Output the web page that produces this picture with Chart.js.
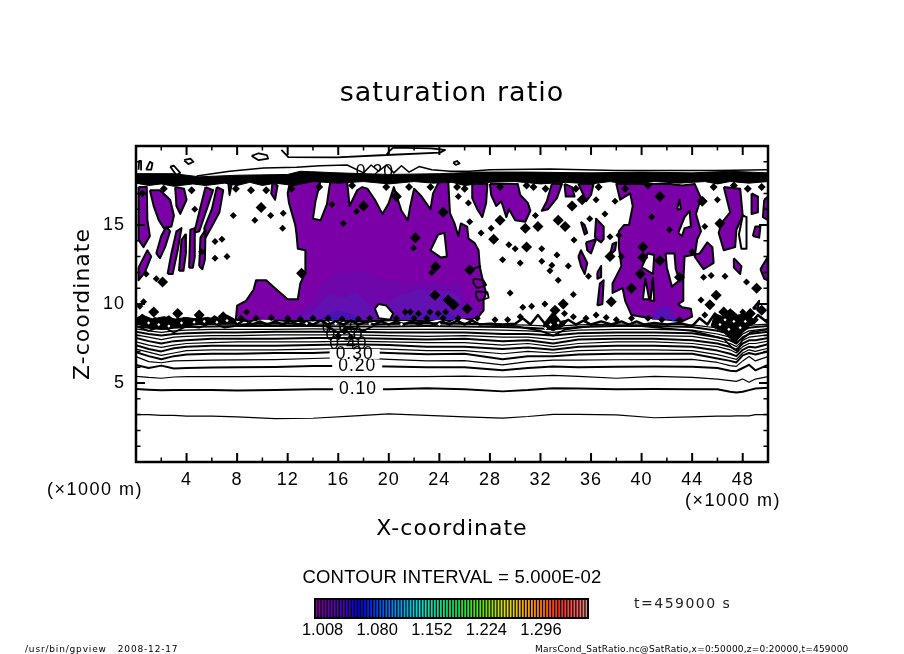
<!DOCTYPE html>
<html><head><meta charset="utf-8">
<script src="https://cdn.jsdelivr.net/npm/chart.js@4/dist/chart.umd.min.js"></script>
<style>html,body{margin:0;padding:0;background:#fff}#w{position:relative;width:904px;height:654px;overflow:hidden}
#main{position:absolute;left:0;top:0}#bar{position:absolute;left:290px;top:598px}</style></head>
<body><div id="w"><canvas id="main" width="904" height="654"></canvas><canvas id="bar" width="330" height="46"></canvas></div>
<script>
const titleText='saturation ratio';
const xTitle='X-coordinate', zTitle='Z-coordinate';
const purple='#7b00a8';
// contour stations (km) and contour heights (km)
const stationsX=[0,1,2,3,4,6,8,11,14,17,20,23,26,29,31,33,35,38,41,44,46,47,47.5,48,48.5,49,50];
const c05=[3.0,3.0,2.95,2.95,2.9,2.9,2.85,2.75,2.77,2.9,3.05,2.95,2.85,2.78,2.88,3.02,3.02,2.98,2.8,2.85,2.9,2.9,2.92,2.92,2.92,3.0,3.0];
const c10=[4.62,4.58,4.54,4.55,4.55,4.56,4.53,4.55,4.6,4.6,4.6,4.66,4.6,4.47,4.55,4.67,4.65,4.6,4.62,4.6,4.6,4.45,4.4,4.45,4.55,4.65,4.7];
const c15=[5.42,5.35,5.3,5.38,5.4,5.4,5.4,5.42,5.4,5.4,5.4,5.4,5.44,5.38,5.42,5.48,5.42,5.3,5.42,5.35,5.25,5.15,5.1,5.25,5.05,5.25,5.4];
const c20=[6.14,5.95,6.1,5.92,5.95,5.98,6.0,6.02,6.08,6.08,6.05,6.0,6,5.8,5.95,6.05,6.0,6.03,6.05,6.03,5.95,5.78,5.75,5.95,6.15,5.8,6.14];
const c25=[6.67,6.35,6.28,6.4,6.42,6.45,6.46,6.48,6.55,6.62,6.5,6.4,6.42,6.15,6.35,6.45,6.45,6.47,6.48,6.5,6.3,6.1,6.05,6.4,6.67,6.4,6.67];
const c30=[6.95,6.7,6.5,6.7,6.8,6.85,6.85,6.9,6.9,7,6.9,6.82,6.85,6.5,6.7,6.7,6.8,6.85,6.85,6.85,6.55,6.4,6.3,6.75,6.9,6.8,7];
const c35=[7.15,6.95,6.75,6.9,7.05,7.1,7.1,7.1,7.15,7.2,7.15,7.05,7.05,6.85,7,6.9,7.05,7.1,7.1,7.05,6.8,6.6,6.5,6.9,7.1,7,7.2];
const c40=[7.4,7.15,7,7.2,7.3,7.35,7.35,7.35,7.4,7.45,7.4,7.3,7.3,7.15,7.25,7.1,7.3,7.35,7.35,7.3,7.05,6.85,6.7,7.1,7.3,7.25,7.45];
const c45=[7.6,7.4,7.25,7.4,7.5,7.55,7.6,7.6,7.6,7.65,7.6,7.55,7.55,7.4,7.5,7.3,7.5,7.6,7.6,7.5,7.3,7.1,6.9,7.3,7.5,7.5,7.65];
const c50=[7.85,7.65,7.5,7.65,7.7,7.8,7.8,7.8,7.85,7.85,7.8,7.75,7.8,7.65,7.7,7.5,7.75,7.8,7.8,7.7,7.5,7.3,7.1,7.5,7.7,7.7,7.85];
const c55=[8.05,7.9,7.75,7.9,7.95,8,8,8.05,8.05,8.05,8.0,7.95,8,7.9,7.9,7.75,7.95,8,8,7.95,7.7,7.5,7.3,7.7,7.9,7.95,8.05];
const c60=[8.25,8.1,8,8.1,8.15,8.2,8.2,8.25,8.25,8.25,8.2,8.2,8.2,8.1,8.1,8,8.15,8.2,8.2,8.15,7.9,7.7,7.5,7.9,8.1,8.15,8.25];
const c65=[8.42,8.3,8.2,8.3,8.35,8.4,8.4,8.4,8.42,8.4,8.4,8.4,8.4,8.35,8.3,8.2,8.35,8.4,8.4,8.35,8.1,7.9,7.7,8.1,8.3,8.35,8.45];
const c70=[8.6,8.5,8.42,8.5,8.55,8.58,8.6,8.6,8.6,8.58,8.58,8.6,8.58,8.55,8.5,8.4,8.55,8.6,8.6,8.55,8.3,8.1,7.9,8.3,8.5,8.55,8.6];
const c75=[8.72,8.65,8.6,8.65,8.7,8.72,8.73,8.74,8.73,8.72,8.72,8.74,8.72,8.7,8.66,8.58,8.68,8.72,8.72,8.68,8.48,8.3,8.1,8.48,8.65,8.68,8.72];
const thinContours=[c05,c15,c25,c35,c45,c55,c65,c75];
const thickContours=[c10,c20,c30,c40,c50,c60,c70];
// ragged supersaturation edge
const raggedA=[[0,8.9],[.5,9.3],[1,8.8],[1.5,9.1],[2,8.8],[2.6,9.2],[3.2,8.8],[3.8,9.1],[4.4,8.8],[5,9.2],[5.6,8.8],[6.2,9.2],[6.8,8.9],[7.4,9.1],[8,8.7],[8.6,9],[9.2,8.7],[9.8,8.9],[10.4,8.7],[11,8.9],[11.6,8.7],[12.2,8.95],[12.8,8.7],[13.4,8.9],[14,8.7],[14.6,8.95],[15.2,8.7],[15.8,8.9],[16.4,8.7],[17,8.95],[17.6,8.7],[18.2,8.85],[18.8,8.7],[19.4,8.9],[20,8.7],[20.6,8.9],[21.2,8.7],[21.8,8.9],[22.4,8.7],[23,8.9],[23.6,8.7],[24.2,8.9],[24.8,8.7],[25.4,8.95],[26,8.7],[26.6,8.95],[27.2,8.7],[28,8.75],[29,8.7],[30,8.75],[30.6,9.1],[31.2,8.7],[31.8,9.3],[32.4,8.7],[33,9.3],[33.6,8.7],[34.2,9],[34.8,8.7],[35.4,8.95],[36,8.7],[36.8,8.9],[37.6,8.7],[38.4,8.9],[39,8.7],[39.6,8.9],[40.2,8.7],[41,8.8],[42,8.7],[43,8.8],[44,8.6],[44.6,9.1],[45.2,8.7],[45.8,9.4],[46.4,8.7],[47,9.5],[47.5,8.5],[48,9.5],[48.6,8.7],[49.2,9.3],[50,8.8]];
const raggedB=[[0,8.6],[1,8.3],[2,8.6],[3,8.2],[4,8.6],[5,8.5],[6,8.8],[7,8.5],[9,8.75],[12,8.78],[15,8.6],[16,8.2],[17,8.5],[18,8.3],[19,8.7],[22,8.8],[26,8.78],[30,8.6],[32,8.3],[33,8.0],[34,8.4],[36,8.6],[40,8.6],[44,8.3],[45.5,8.0],[46.5,7.8],[47.2,7.2],[47.6,7.0],[48,7.8],[48.6,8.2],[50,8.4]];
const edgeMassLeft=[[0,8.75],[1,8.5],[2.2,8.4],[3.2,8.55],[5,8.7],[7.9,8.75],[7.9,9],[7.2,9.3],[6.4,9.05],[5.6,9.15],[4.8,9.05],[4,9.15],[3.1,9.05],[2.2,9.2],[1.3,9.05],[.5,9.3],[0,9.1]];
const edgeMassRight=[[45.5,8.6],[46.5,8.2],[47.4,7.5],[47.9,8.1],[48.5,8.6],[49,8.8],[48.5,9.4],[47.6,9.3],[47,9.7],[46.4,9.2],[45.8,9.4]];
const edgeMassMid=[[32.2,8.6],[33,8.3],[33.8,8.6],[34.2,9],[33.6,8.9],[33,9.5],[32.4,8.9]];
const whiteSpecks=[[1,8.8],[1.8,8.7],[2.6,8.6],[3.6,8.8],[4.6,8.85],[5.4,8.9],[6.4,8.85],[7.2,8.95],[46.2,8.7],[46.9,8.4],[47.3,8.9],[47.8,8.5],[48.2,8.9],[46.6,9],[32.8,8.7],[33.4,8.8],[32.4,8.45],[13.5,8.78],[15.8,8.75],[18.5,8.75],[21,8.72],[24,8.72]];
// thick band near 18 km
const band=[[0,18.25],[3,18.25],[5,18.05],[8,18.15],[12,18.2],[13,18.4],[16,18.3],[20,18.2],[24,18.25],[27,18.35],[31,18.35],[36,18.3],[40,18.35],[44,18.3],[47,18.4],[50,18.3],[50,17.75],[48.5,17.65],[47,17.75],[46,17.6],[45,17.75],[43,17.65],[41,17.75],[39,17.55],[37.5,17.75],[36,17.6],[34,17.7],[32,17.6],[30,17.75],[28,17.7],[26,17.5],[25,17.7],[23.5,17.65],[22,17.75],[20,17.6],[18,17.75],[16,17.65],[14,17.75],[12.5,17.5],[11,17.65],[10,17.5],[9,17.7],[8,17.5],[7,17.65],[5.5,17.5],[4.5,17.6],[3,17.45],[2,17.6],[1,17.5],[0,17.65]];
// upper contours
const topLine=[[4.8,18.1],[7.4,18.4],[10.1,18.6],[12.7,18.65],[14.55,18.75],[16.7,18.8],[18,18.3],[18.6,18.8],[19.2,18.4],[19.8,18.8],[20.4,18.3],[21,18.75],[21.6,18.35],[22.4,18.7],[23.4,18.5],[24.85,18.4],[26.4,18.4],[28,18.5],[32.75,18.55],[38,18.45],[45.9,18.45],[50,18.5]];
const topLens=[[11.5,19.75],[12.05,19.3],[15.9,19.28],[19.8,19.43],[24.05,19.58],[24.45,19.75],[23.3,19.85],[20.35,19.9],[20,19.64],[19.8,19.43]];
const topLoopA=[[9.15,19.37],[9.7,19.54],[10.35,19.43],[10.45,19.2],[9.7,19.1],[9.15,19.37]];
const topLoopB=[[3.8,19.1],[4.3,19.2],[4.55,19.0],[4.15,18.85],[3.8,19.1]];
const topLoopC=[[2.7,18.7],[3.0,18.75],[3.5,18.3],[3.2,18.15],[2.7,18.7]];
const topLoopD=[[.2,18.5],[.25,19.05],[.4,19.05],[.4,18.5]];
const topLoopE=[[.8,18.5],[1.1,19],[1.3,18.9],[1.2,18.5],[.8,18.5]];
const topLoopF=[[25.1,18.95],[25.4,19.05],[25.6,18.9],[25.3,18.8],[25.1,18.95]];
const loopA=[[26.7,11.6],[27.5,11.5],[27.7,11.2],[27,11],[26.7,11.3],[26.7,11.6]];
const loopB=[[26.9,10.8],[27.8,10.75],[27.9,10.4],[27.1,10.2],[26.9,10.5],[26.9,10.8]];
const stem=[[26.2,12.1],[27.3,12.4]];
// filled saturated regions
const mainBlob=[[7.9,9],[8,9.9],[8.7,10.2],[9.3,10.9],[9.5,11.5],[10.3,11.5],[11,11],[12,10.3],[12.8,10.3],[13,11.3],[13.4,12],[13.4,13.4],[12.8,13.5],[12.7,14.4],[12.6,15],[12.1,16.4],[12,17],[12.2,17.8],[14.6,17.8],[14.2,16.5],[14,15.4],[14.6,15.3],[15.1,16.3],[15.3,17.4],[15.4,17.8],[16.7,17.8],[16.9,16.2],[17.5,17.2],[17.9,17.4],[18.3,17.3],[18.9,16.6],[19.5,15.7],[20,16.4],[20.4,17.4],[21,15.9],[21.5,15.3],[21.7,16.2],[22,17.3],[22.6,16.8],[23.3,16],[23.5,17],[24,17.8],[24.7,17.8],[24.84,15.75],[25.2,15.1],[25.5,14.3],[25.7,15.1],[26.2,14.9],[26.3,14.15],[26.8,13.85],[27.1,13.4],[27.2,12.35],[27.5,11.3],[27.7,10.7],[27.5,10.25],[27.5,9.6],[27.1,9.2],[26.4,9],[25.6,9.2],[24.8,8.9],[24,9.1],[23,8.9],[21,9],[18,8.9],[15,9],[12,8.9],[10,9.1],[9,8.9]];
const leftPlumes=[
 [[.2,17.4],[.85,17.4],[.9,15.3],[1.1,14.3],[.6,13.6],[.2,14.05]],
 [[.2,12.3],[.9,13.4],[1.2,13],[.7,12],[.2,11.5]],
 [[1.1,17.2],[1.9,17.2],[2.7,16.6],[3,15.6],[2.8,14.9],[2.2,14.8],[1.8,15.3],[1.4,16.2]],
 [[3.1,17.4],[3.8,17.3],[4,16.6],[3.5,15.7],[3.2,16.2]],
 [[5.5,17.4],[6.1,17.2],[5.6,16],[5,14.6],[4.6,14.5],[5,15.8]],
 [[6.4,17.4],[6.9,17.2],[6.6,15.8],[6,14.9],[5.5,14.2],[5.4,14.8],[6,16]],
 [[7.3,17.7],[7.6,17.7],[7.4,16.9]],
 [[10.8,17.7],[11.2,17.5],[11,16.6],[10.7,17]],
 [[1.6,13.2],[2,14.3],[2.4,14.9],[2.7,14.6],[2.3,13.6],[1.9,12.9]],
 [[2.5,11.9],[2.8,13.2],[3.2,14.6],[3.6,14.8],[3.3,13.4],[2.9,11.9]],
 [[3.4,12.1],[3.6,14.05],[3.9,14.4],[3.95,13.2],[3.75,12.1]],
 [[4.2,12.3],[4.3,14.7],[4.65,14.8],[4.65,13],[4.5,12.3]],
 [[5,12.4],[5.1,14.2],[5.5,14.7],[5.45,12.8],[5.25,12.2]]];
const rightPlumes=[
 [[26.6,17.6],[27.8,17.6],[27.7,16.4],[27.4,15.5],[27,16],[26.6,16.7]],
 [[28,17.6],[30.2,17.6],[30.4,16.9],[31,16.4],[31.2,15.9],[30.8,15.2],[30,15.3],[29.5,16],[29.3,15.5],[28.9,16.5],[28.5,16.2],[28.1,16.9]],
 [[32.9,17.6],[33.7,17.6],[33.3,16.7],[32.6,16],[32.1,15.9],[32.5,16.5]],
 [[33.9,17.6],[34.5,17.4],[34.7,16.8],[34,16.8]],
 [[35,17.6],[36.2,17.6],[36,16.9],[35.6,16.5],[35.4,16.9]],
 [[36.3,14.2],[36.4,15.4],[37,14.9],[37,14.1],[36.8,13.9]],
 [[35.2,15.2],[35.5,15],[35.7,14.5],[35.5,14.4]],
 [[35.6,13.9],[36.4,14.1],[36,13.2],[35.7,13.4]],
 [[35,13],[35.2,13.4],[35.7,12.6],[35.5,11.9],[35.2,12.4]],
 [[37.5,13.1],[37.9,13.4],[38,13.9],[37.7,13.8]],
 [[36.5,9.9],[36.9,10],[37,11.5],[36.7,11.3]],
 [[36.5,12],[36.8,12.4],[36.8,11.7],[36.5,11.6]],
 [[39.2,9.3],[38.7,10.2],[38.5,11],[37.7,10.7],[37.7,11.3],[38.4,12.4],[38.2,13.6],[38.2,14.6],[38.6,15],[39,15],[39.3,16.2],[39.1,17],[38.3,16.6],[38,17.6],[42.3,17.6],[43.2,17.5],[44.2,17.6],[44.7,16.7],[44.3,15.7],[44.7,14.6],[44.4,14.1],[44.2,13],[44.9,12.2],[45.7,12.6],[45.6,13.6],[45.2,13.9],[44.6,13.2],[43.4,13],[43.3,11.5],[43.3,10.2],[42.9,10],[43.2,9.8],[43.9,9.7],[44,9.2],[43.2,8.9],[41,9.1],[40,9.2]],
 [[46.5,17.4],[47.8,17.3],[48,15.6],[47.5,14.7],[47.4,13.6],[46.5,13.4],[46.1,14.5],[46.3,15.1],[47,15.8]],
 [[47.3,12.9],[47.9,12.4],[47.8,11.9],[47.3,12.3]],
 [[48.7,17],[49.2,16.8],[49.2,15.8],[48.7,15.7]],
 [[49.7,16.6],[50,16.8],[50,15.3],[49.6,15.5]],
 [[48.8,14.3],[49,14.9],[49.4,14.9],[49.3,14.2]],
 [[49.4,12.2],[50,13],[50,11.5],[49.7,11.6]],
 [[48.8,9.7],[49.3,10.2],[49.2,9.7]]];
const holes=[
 [[23.9,14.4],[24.4,14.5],[24.6,13],[24.1,12.95],[23.3,13.4]],
 [[18.9,9.7],[19.2,10],[19.8,9.9],[20.35,9.4],[20.1,9],[19.2,9.1]],
 [[42.9,14.5],[43.4,15.5],[43.8,15.9],[43.9,14.9],[43.4,14.8],[43.2,14.3]],
 [[41.9,13.2],[42.6,13.2],[42.7,12.2],[43,11.5],[42.4,11.1],[42,12.3]],
 [[40,12.3],[40.5,13.2],[41,13.1],[40.9,11.9],[40.3,12.2]],
 [[40.1,10.3],[40.3,11.6],[40.6,10.3]],
 [[40.9,11.7],[41,10.2],[40.7,10.2]],
 [[42.8,16],[43,16.6],[43.1,16]],
 [[48,15.6],[48.3,15.5],[48.3,13.5],[47.9,13.5],[47.7,14.4]]];
const deepA=[[9,9],[12.7,9.5],[13.9,10.2],[14.5,11.1],[15.9,11.95],[18,12.05],[19.6,11.5],[21.9,11.4],[25.6,11.3],[26.1,10.05],[27.2,9.8],[27.1,9.1]];
const deepB=[[12.6,9],[14.2,9.7],[15.2,10.6],[16.5,10.4],[17.5,10.8],[18.3,10],[19.3,9.6],[20.6,10.5],[22.4,10.9],[25,10.8],[25.6,10.5],[25.8,9.4],[25.6,9]];
const deepC=[[14.4,9],[15.3,9.4],[16,9.6],[17,9.4],[17.8,9],[20.8,9],[21.5,9.4],[23,9.4],[24.5,9.5],[25.3,9.2],[25.2,9]];
const deepD=[[40.8,9],[41.2,9.7],[42,9.9],[42.5,9.5],[42.4,9]];
const bluePts=[[15.6,9.0],[17.25,8.95],[42.5,9.0]];
// isolated small closed contours
const blobsLarge=[[9.9,16.1],[18,16.2],[22.1,14.2],[24.3,15.8],[23.7,12.35],[23.65,10.55],[13.1,11.95],[1.4,9.5],[3.3,9.4],[5,9.3],[2.1,11.4],[6.9,9.2],[24.7,10.25],[25.15,9.95],[20.6,16.8],[41.45,16.8],[40.1,13.6],[41.45,12.75],[40.1,12.95],[39.2,11],[43,11.7],[30.8,14.8],[28.8,15.3],[31.8,14.9],[30.9,13.6],[28.3,14.1],[33.4,15.3],[33.95,14.9],[35.3,16.6],[34.5,16.2],[44.8,16.5],[46.2,15.1],[49.1,11],[33.8,10],[37.6,10.15],[26.4,12.15],[25.1,9.95],[26.2,9.7],[33.15,9.6],[45.4,9.95],[45.9,10.55],[37.5,13],[39.9,11.9],[46.5,9.5],[48.6,9.4],[49.5,9.6]];
const blobsMid=[[.5,17],[2.2,17.3],[4.4,17.2],[7.9,17.3],[9.1,17.2],[10.3,17.2],[12.3,17.3],[14.5,17.4],[17.1,17.5],[19.8,17.4],[21.6,17.4],[23.3,17.4],[25.4,17.4],[26,17.3],[28.8,17.4],[30.9,17.5],[31.45,17.4],[32.4,17.3],[34.8,17.3],[36.6,17.4],[38.7,17.3],[40.5,17.5],[45.7,17.4],[47.3,17.5],[48.4,17.3],[49.5,17.4]];
const blobsSmall=[[7.7,15.6],[11.6,14.8],[10.65,15.6],[11.65,15.75],[9.4,15.3],[4.65,16],[6.25,13.95],[6.8,14.1],[6.25,12.9],[7.2,13],[16.4,15.1],[17.45,15.85],[15.5,16.3],[21.95,13.55],[23.4,12],[21.3,9.5],[21.7,9.5],[22.35,9.4],[23.25,9.5],[23.9,9.4],[24.5,9.5],[8.75,9.5],[.6,10.15],[.3,9.85],[32.9,12.45],[34.2,12.4],[32.75,12.1],[32.1,12.7],[31.3,9.85],[32.35,10],[28.1,14.8],[29.5,13.75],[30,13.5],[32.1,13.5],[33.3,13.1],[34.65,14.05],[35.8,11.75],[37.5,14.25],[38.2,14.35],[44.7,10.25],[44.9,11.7],[45.5,11.8],[46.6,11.75],[48.3,11.4],[36.4,16.6],[26.4,15.2],[27.3,14.5],[25.5,16.8],[45,9.3],[46,9.1],[48,9.5],[49,9],[16.5,8.3],[16,8],[17,7.9],[8.3,9.1],[9.5,9.1],[10.7,9.15],[12,9.1],[13,9.05],[14,9.1],[15.2,9.1],[16.3,9.05],[17.6,9.05],[18.5,9.1],[20.6,9.1],[22,9.1],[23,9.1],[24.3,9.1],[25.5,9.1],[27,9.1],[28.4,9],[29.4,9],[30.4,9.2],[34.6,9.2],[35.6,9.1],[36.4,9.3],[37.2,9.15],[38,9],[39.2,9.1],[40.5,9.1],[41.6,9],[43,9],[.8,11.9],[1.6,11.6],[5.2,13.3],[29,12.8],[30.4,12.6],[33.4,11.5],[38.4,13],[40.8,15.5],[42.2,14.7],[44,13.3],[45,14.9],[46,16.6],[26.3,16.4],[31.6,15.6],[35.9,15.4],[37.9,16.5],[37.1,15.7],[29.6,10.7],[30.6,9.8],[34.6,10.6],[33.9,9.4]];
// contour labels
const lineLabels=[['0.10',17.56,4.62],['0.20',17.5,6.08],['0.30',17.3,6.84]];
const looseLabels=[['0.40',16.8,7.47],['0.50',16.5,8.05],['0.60',16.2,8.5],['0.20',18.9,18.35]];
// axis ticks
const xMajorLabels=[4,8,12,16,20,24,28,32,36,40,44,48];
const zMajorLabels=[5,10,15];
// colour bar
const levels=[1.000,1.004,1.008,1.012,1.016,1.020,1.024,1.028,1.032,1.036,1.040,1.044,1.048,1.052,1.056,1.060,1.064,1.068,1.072,1.076,1.080,1.084,1.088,1.092,1.096,1.100,1.104,1.108,1.112,1.116,1.120,1.124,1.128,1.132,1.136,1.140,1.144,1.148,1.152,1.156,1.160,1.164,1.168,1.172,1.176,1.180,1.184,1.188,1.192,1.196,1.200,1.204,1.208,1.212,1.216,1.220,1.224,1.228,1.232,1.236,1.240,1.244,1.248,1.252,1.256,1.260,1.264,1.268,1.272,1.276,1.280,1.284,1.288,1.292,1.296,1.300,1.304,1.308,1.312,1.316,1.320,1.324,1.328,1.332,1.336,1.340,1.344,1.348,1.352,1.356];
const levelTicks=[1.008,1.080,1.152,1.224,1.296];
const rampStops=[[0,128,0,150],[.1,70,0,190],[.16,0,0,230],[.28,0,130,240],[.38,0,220,220],[.52,0,225,70],[.62,110,225,0],[.7,225,225,0],[.8,255,150,0],[.9,255,40,30],[1,240,130,130]];
const extraText=[
 ['(×1000 m)',47,495,18,'left',1.5,'#000'],['(×1000 m)',685,506,18,'left',1.5,'#000'],
 ['CONTOUR INTERVAL = 5.000E-02',452,583,18.5,'center',.2,'#000'],
 ['t=459000 s',634,608,14,'left',1.5,'#222'],
 ['/usr/bin/gpview   2008-12-17',25,652,9,'left',.83,'#000'],
 ['MarsCond_SatRatio.nc@SatRatio,x=0:50000,z=0:20000,t=459000',535,652,9,'left',.21,'#000']];

const pts=a=>a.map(p=>({x:p[0],y:p[1]}));
const closed=a=>pts(a.concat([a[0]]));
const FONT='"DejaVu Sans"', FONT2='"Liberation Sans"';
const list=[];
const poly=(a,c,bw)=>list.push({data:closed(a),showLine:true,fill:'shape',backgroundColor:c,borderColor:'#000',borderWidth:bw,pointRadius:0,tension:0,borderJoinStyle:'round'});
const line=(a,w)=>list.push({data:pts(a),showLine:true,fill:false,borderColor:'#000',borderWidth:w,pointRadius:0,tension:0,borderJoinStyle:'round'});
const dots=(a,r,c)=>list.push({data:pts(a),showLine:false,pointStyle:'rectRot',pointRadius:r,backgroundColor:c,borderColor:c,borderWidth:0});
poly(mainBlob,purple,2);
leftPlumes.forEach(a=>poly(a,purple,2));
rightPlumes.forEach(a=>poly(a,purple,2));
poly(deepA,'#6f06ac',0);poly(deepB,'#6210b2',0);poly(deepC,'#4a12b6',0);poly(deepD,'#5610b4',0);
dots(bluePts,2,'#0a30e0');
holes.forEach(a=>poly(a,'#fff',2));
thinContours.forEach(z=>line(stationsX.map((x,i)=>[x,z[i]]),1.2));
thickContours.forEach(z=>line(stationsX.map((x,i)=>[x,z[i]]),2));
line(raggedB,1.8);line(raggedA,2.5);
poly(edgeMassLeft,'#000',1);poly(edgeMassRight,'#000',1);poly(edgeMassMid,'#000',1);
poly(band,'#000',1);
line(topLine,1.5);line(topLens,1.8);
[topLoopA,topLoopB,topLoopC,topLoopD,topLoopE,topLoopF,loopA,loopB].forEach(a=>line(a,1.8));
line(stem,2);
dots(blobsLarge,5.5,'#000');
dots(blobsMid,4,'#000');
dots(blobsSmall,3.5,'#000');
dots(whiteSpecks,1.6,'#fff');
list.forEach((d,i)=>{d.order=list.length-i;d.clip=0;d.xAxisID='x';d.yAxisID='y';});

const setSpacing={id:'spacing',beforeInit(c){c.ctx.letterSpacing='1px';},beforeDraw(c){c.ctx.letterSpacing='1px';
  const g=c.ctx;g.save();g.fillStyle='#fff';g.fillRect(0,0,c.width,c.height);g.restore();}};
const decor={id:'decor',afterDatasetsDraw(c){
  const g=c.ctx,{x,y}=c.scales,a=c.chartArea;
  g.save();
  g.textAlign='center';g.textBaseline='middle';g.fillStyle='#000';g.font='17.5px '+FONT2;g.letterSpacing='1px';
  lineLabels.forEach(l=>{const px=x.getPixelForValue(l[1]),py=y.getPixelForValue(l[2]);
    g.fillStyle='#fff';g.fillRect(px-25,py-5,50,10);g.fillStyle='#000';g.fillText(l[0],px,py);});
  looseLabels.forEach(l=>g.fillText(l[0],x.getPixelForValue(l[1]),y.getPixelForValue(l[2])));
  g.strokeStyle='#000';
  x.ticks.forEach(t=>{const p=x.getPixelForValue(t.value),m=xMajorLabels.includes(t.value),n=m?9:4.5;
    g.lineWidth=m?2:1.5;g.beginPath();g.moveTo(p,a.bottom);g.lineTo(p,a.bottom-n);g.moveTo(p,a.top);g.lineTo(p,a.top+n);g.stroke();});
  y.ticks.forEach(t=>{const p=y.getPixelForValue(t.value),m=zMajorLabels.includes(t.value),n=m?9:4.5;
    g.lineWidth=m?2:1.5;g.beginPath();g.moveTo(a.left,p);g.lineTo(a.left+n,p);g.moveTo(a.right,p);g.lineTo(a.right-n,p);g.stroke();});
  g.lineWidth=2.5;g.strokeRect(a.left,a.top,a.right-a.left,a.bottom-a.top);
  g.restore();
},afterDraw(c){
  const g=c.ctx;g.save();g.textBaseline='alphabetic';
  extraText.forEach(t=>{g.font=t[3]+'px '+(t[3]>=15?FONT2:FONT);g.textAlign=t[4];g.letterSpacing=t[5]+'px';g.fillStyle=t[6];g.fillText(t[0],t[1],t[2]);});
  g.restore();
}};
new Chart(document.getElementById('main'),{type:'scatter',data:{datasets:list},plugins:[setSpacing,decor],options:{
  responsive:false,animation:false,devicePixelRatio:1,events:[],
  layout:{padding:{left:0,right:0,top:0,bottom:112}},
  plugins:{legend:{display:false},tooltip:{enabled:false},
    title:{display:true,text:titleText,color:'#000',font:{family:FONT,size:27,weight:'normal'},padding:{top:78,bottom:35.6}}},
  scales:{
    x:{type:'linear',min:0,max:50,afterFit:s=>{s.height=80;},
      grid:{display:false,drawTicks:false},border:{display:false},
      ticks:{stepSize:2,autoSkip:false,maxRotation:0,padding:7,color:'#000',font:{family:FONT2,size:18},callback:v=>xMajorLabels.includes(v)?String(v):''},
      title:{display:true,text:xTitle,color:'#000',font:{family:FONT,size:22},padding:0}},
    y:{type:'linear',min:0,max:20,afterFit:s=>{s.width=136;},
      grid:{display:false,drawTicks:false},border:{display:false},
      ticks:{stepSize:1,autoSkip:false,padding:11,color:'#000',font:{family:FONT2,size:18},callback:v=>zMajorLabels.includes(v)?String(v):''},
      title:{display:true,text:zTitle,color:'#000',font:{family:FONT,size:22},padding:{top:70,bottom:0}}},
    rightSpace:{type:'linear',position:'right',axis:'y',min:0,max:20,afterFit:s=>{s.width=136;},
      grid:{display:false,drawTicks:false},border:{display:false},ticks:{display:false}}
  }}});
// colour bar
const rampColor=t=>{let i=0;while(i<rampStops.length-2&&t>rampStops[i+1][0])i++;const a=rampStops[i],b=rampStops[i+1],f=(t-a[0])/(b[0]-a[0]);
  return 'rgb('+[1,2,3].map(k=>Math.round(a[k]+(b[k]-a[k])*f)).join(',')+')';};
const barFrame={id:'barFrame',beforeInit(c){c.ctx.letterSpacing='0px';},beforeDatasetsDraw(c){const g=c.ctx,a=c.chartArea;g.save();g.fillStyle='#000';g.fillRect(a.left,a.top,a.right-a.left,a.bottom-a.top);g.restore();},
 afterDatasetsDraw(c){const g=c.ctx,a=c.chartArea;g.save();g.strokeStyle='#000';g.lineWidth=2;g.strokeRect(a.left,a.top,a.right-a.left,a.bottom-a.top);g.restore();}};
new Chart(document.getElementById('bar'),{type:'bar',data:{labels:levels.map(v=>v.toFixed(3)),datasets:[{data:levels.map(()=>1),backgroundColor:levels.map((v,i)=>rampColor(i/(levels.length-1))),barPercentage:.6,categoryPercentage:1,borderWidth:0}]},plugins:[barFrame],options:{
  responsive:false,animation:false,devicePixelRatio:1,events:[],
  layout:{padding:{left:25,right:32,top:1,bottom:0}},
  plugins:{legend:{display:false},tooltip:{enabled:false}},
  scales:{
   x:{afterFit:s=>{s.height=26;},grid:{display:false,drawTicks:false},border:{display:false},
     ticks:{autoSkip:false,maxRotation:0,minRotation:0,padding:3,color:'#000',font:{family:FONT2,size:16.5},callback:(v,i)=>levelTicks.includes(levels[i])?levels[i].toFixed(3):''}},
   y:{display:false,min:0,max:1}
  }}});
</script></body></html>
